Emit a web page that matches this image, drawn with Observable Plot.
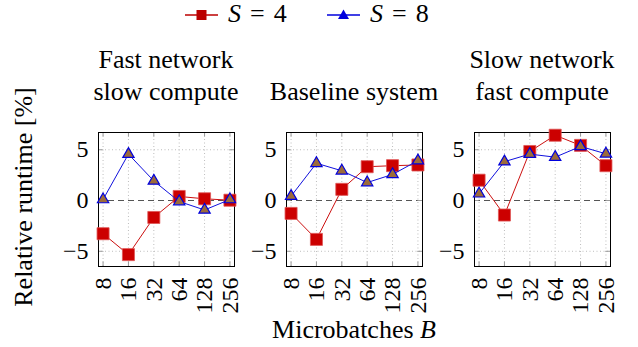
<!DOCTYPE html>
<html><head><meta charset="utf-8">
<script src="https://cdn.jsdelivr.net/npm/d3@7"></script>
<script src="https://cdn.jsdelivr.net/npm/@observablehq/plot@0.6"></script>
<style>
body{margin:0;background:#fff;}
#chart{position:relative;width:638px;height:347px;color:#000;overflow:hidden;background:#fff}
.abs{position:absolute;white-space:nowrap}
.title{font-size:26px;line-height:32px;text-align:center;width:240px}
</style></head><body><div id="chart" style="font-family:'Liberation Serif'"></div>
<script>
// ---- data ----
const batches = [8, 16, 32, 64, 128, 256];
const yTicks = [-5, 0, 5];
const panelTitles = [["Fast network", "slow compute"], ["Baseline system"], ["Slow network", "fast compute"]];
const seriesNames = ["S = 4", "S = 8"];
const s4Fast = [-3.27, -5.33, -1.67, 0.4, 0.17, 0.03];
const s8Fast = [0.1, 4.57, 1.93, -0.1, -0.93, 0.1];
const s4Base = [-1.27, -3.83, 1.1, 3.33, 3.43, 3.5];
const s8Base = [0.43, 3.67, 2.93, 1.77, 2.57, 3.93];
const s4Slow = [2.0, -1.43, 4.83, 6.43, 5.43, 3.43];
const s8Slow = [0.67, 3.83, 4.57, 4.27, 5.33, 4.6];
const yLabel = "Relative runtime [%]";
const xLabel = "Microbatches";

const serif = "'Liberation Serif'";
const panels = [[s4Fast, s8Fast], [s4Base, s8Base], [s4Slow, s8Slow]];
const xDomain = [8 * Math.pow(2, -0.18), 256 * Math.pow(2, 0.18)];
const yDomain = [-6.5, 6.7];
const red = "#cc0000", blue = "#0000dd";

const chart = document.getElementById("chart");
function setFont(el) { el.style.setProperty("font-family", serif, "important"); }

function makePanel(s4, s8) {
  const d4 = batches.map((b, i) => ({b, v: s4[i]}));
  const d8 = batches.map((b, i) => ({b, v: s8[i]}));
  return Plot.plot({
    width: 187, height: 196,
    marginLeft: 45, marginRight: 6, marginTop: 10, marginBottom: 52,
    style: {fontFamily: serif, fontSize: "24px", background: "transparent", overflow: "visible"},
    x: {type: "log", base: 2, domain: xDomain},
    y: {domain: yDomain},
    marks: [
      Plot.ruleX(batches, {stroke: "#bdbdbd", strokeDasharray: "1,2.5"}),
      Plot.ruleY([-5, 5], {stroke: "#bdbdbd", strokeDasharray: "1,2.5"}),
      Plot.ruleY([0], {stroke: "#555", strokeDasharray: "6,4"}),
      Plot.ruleX(batches, {y1: yDomain[0], y2: yDomain[0] + 0.45, stroke: "#999"}),
      Plot.ruleX(batches, {y1: yDomain[1] - 0.45, y2: yDomain[1], stroke: "#999"}),
      Plot.ruleY(yTicks, {x1: xDomain[0], x2: xDomain[0] * Math.pow(2, 0.18), stroke: "#999"}),
      Plot.ruleY(yTicks, {x1: xDomain[1] / Math.pow(2, 0.18), x2: xDomain[1], stroke: "#999"}),
      Plot.frame({stroke: "#000", strokeWidth: 1}),
      Plot.line(d4, {x: "b", y: "v", stroke: "#cc1010", strokeWidth: 1}),
      Plot.dot(d4, {x: "b", y: "v", symbol: "square", r: 6.8, fill: red, stroke: "#e05555", strokeWidth: 0.8}),
      Plot.line(d8, {x: "b", y: "v", stroke: "#1010dd", strokeWidth: 1}),
      Plot.dot(d8, {x: "b", y: "v", symbol: "triangle", r: 4.2, fill: "#9c6b3b", stroke: blue, strokeWidth: 1.2}),
      Plot.axisX({ticks: batches, tickFormat: d => String(d), tickRotate: -90, tickSize: 0, tickPadding: 11, label: null, fontSize: 24}),
      Plot.axisY({ticks: yTicks, tickSize: 0, tickPadding: 10, label: null, fontSize: 24})
    ]
  });
}

const frameLefts = [98, 286, 474];
panels.forEach(([s4, s8], i) => {
  const svg = makePanel(s4, s8);
  svg.classList.add("abs");
  svg.style.left = (frameLefts[i] - 45) + "px";
  svg.style.top = "122px";
  setFont(svg);
  svg.querySelectorAll("g, text, tspan").forEach(setFont);
  chart.appendChild(svg);
  const t = document.createElement("div");
  t.className = "abs title";
  t.style.left = (frameLefts[i] + 68 - 120) + "px";
  t.style.top = (44 + (2 - panelTitles[i].length) * 32) + "px";
  t.innerHTML = panelTitles[i].join("<br>");
  setFont(t);
  chart.appendChild(t);
});

// y label
const yl = document.createElement("div");
yl.className = "abs";
yl.style.cssText += "font-size:26px;line-height:26px;width:300px;text-align:center;left:-126px;top:184px;transform:rotate(-90deg);transform-origin:150px 13px;";
yl.textContent = yLabel;
setFont(yl);
chart.appendChild(yl);

// x label
const xl = document.createElement("div");
xl.className = "abs";
xl.style.cssText += "font-size:26px;line-height:32px;width:300px;text-align:center;left:204px;top:314px;";
xl.innerHTML = xLabel + " <i>B</i>";
setFont(xl);
chart.appendChild(xl);

// legend
function legendItem(x, kind, label) {
  const sw = document.createElementNS("http://www.w3.org/2000/svg", "svg");
  sw.setAttribute("width", 34); sw.setAttribute("height", 14);
  sw.classList.add("abs");
  sw.style.left = x + "px"; sw.style.top = "8px";
  const col = kind === "square" ? "#bb0000" : blue;
  sw.innerHTML = `<line x1="0" x2="33" y1="7" y2="7" stroke="${col}" stroke-width="1.6"/>` +
    (kind === "square"
      ? `<rect x="11.5" y="2" width="10" height="10" fill="${col}"/>`
      : `<polygon points="16.5,1.5 22,11 11,11" fill="${col}"/>`);
  chart.appendChild(sw);
  const parts = label.split(" = ");
  const t = document.createElement("div");
  t.className = "abs";
  t.style.cssText += `font-size:26px;line-height:32px;left:${x + 43}px;top:-2px;`;
  t.innerHTML = `<i>${parts[0]}</i><span style="margin:0 9px">=</span>${parts[1]}`;
  setFont(t);
  t.querySelectorAll("i, span").forEach(setFont);
  chart.appendChild(t);
}
legendItem(185, "square", seriesNames[0]);
legendItem(327, "triangle", seriesNames[1]);
</script>
</body></html>
